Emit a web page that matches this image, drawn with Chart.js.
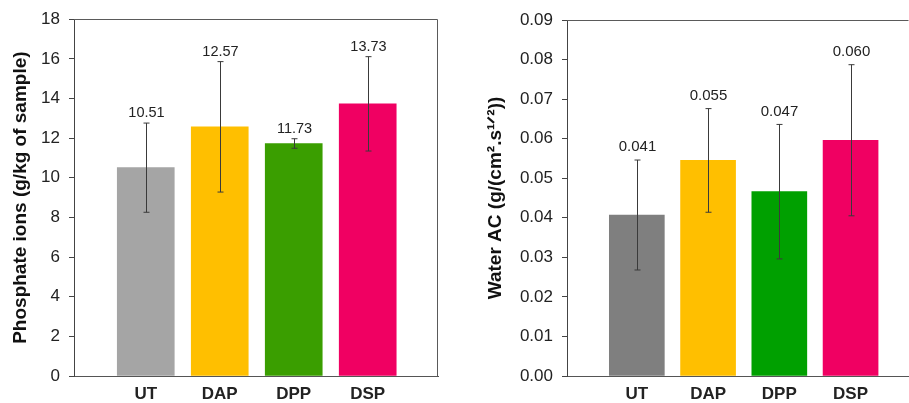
<!DOCTYPE html>
<html>
<head>
<meta charset="utf-8">
<script src="https://cdn.jsdelivr.net/npm/chart.js@4.4.1/dist/chart.umd.min.js"></script>
<style>
  html, body { margin: 0; padding: 0; background: #fff; }
  #wrap { position: relative; width: 909px; height: 403px; overflow: hidden; }
  #left { position: absolute; left: 0; top: 0; }
  #right { position: absolute; left: 455px; top: 0; }
</style>
</head>
<body>
<div id="wrap">
  <canvas id="left" width="450" height="403"></canvas>
  <canvas id="right" width="454" height="403"></canvas>
</div>
<script>
// данные
var categories = ['UT', 'DAP', 'DPP', 'DSP'];

var phosphateValues = [10.51, 12.57, 11.73, 13.73];
var phosphateErrors = [2.25, 3.29, 0.24, 2.38];
var phosphateLabels = ['10.51', '12.57', '11.73', '13.73'];
var phosphateColors = ['#a5a5a5', '#ffbf00', '#3a9e00', '#f00062'];

var waterValues = [0.0407, 0.0545, 0.0466, 0.0596];
var waterErrors = [0.0139, 0.0131, 0.0170, 0.0191];
var waterLabels = ['0.041', '0.055', '0.047', '0.060'];
var waterColors = ['#7f7f7f', '#ffbf00', '#00a000', '#f00062'];

var FONT = "'Liberation Sans', Arial, sans-serif";

// усы погрешностей + подписи значений над ними
var errorBarsPlugin = {
  id: 'errorBars',
  afterDatasetsDraw: function (chart, args, opts) {
    var ctx = chart.ctx;
    var xs = chart.scales.x, ys = chart.scales.y;
    ctx.save();
    opts.values.forEach(function (v, i) {
      var x = Math.round(xs.getPixelForValue(i + 1)) + 0.5;
      var yt = ys.getPixelForValue(v + opts.errors[i]);
      var yb = ys.getPixelForValue(v - opts.errors[i]);
      ctx.strokeStyle = '#3a3a3a';
      ctx.lineWidth = 1;
      ctx.beginPath();
      ctx.moveTo(x, yt); ctx.lineTo(x, yb);
      ctx.moveTo(x - 3, yt); ctx.lineTo(x + 3, yt);
      ctx.moveTo(x - 3, yb); ctx.lineTo(x + 3, yb);
      ctx.stroke();
      ctx.fillStyle = '#222';
      ctx.font = opts.fontSize + 'px ' + FONT;
      ctx.textAlign = 'center';
      ctx.textBaseline = 'middle';
      ctx.fillText(opts.labels[i], x, yt - opts.gap);
    });
    ctx.restore();
  }
};

// рамка: верх и правый край области графика
var framePlugin = {
  id: 'frame',
  afterDraw: function (chart, args, opts) {
    if (!opts.show) return;
    var a = chart.chartArea, ctx = chart.ctx;
    ctx.save();
    ctx.strokeStyle = opts.color;
    ctx.lineWidth = 1;
    ctx.beginPath();
    ctx.moveTo(a.left, Math.round(a.top) + 0.5);
    ctx.lineTo(Math.round(a.right) - 0.5, Math.round(a.top) + 0.5);
    if (opts.rightSide) ctx.lineTo(Math.round(a.right) - 0.5, a.bottom);
    ctx.stroke();
    ctx.restore();
  }
};

function makeChart(id, cfg) {
  var canvas = document.getElementById(id);
  return new Chart(canvas.getContext('2d'), {
    type: 'bar',
    data: {
      datasets: [{
        data: cfg.values.map(function (v, i) { return { x: i + 1, y: v }; }),
        backgroundColor: cfg.colors,
        borderWidth: 0,
        barThickness: cfg.barWidth
      }]
    },
    options: {
      responsive: false,
      animation: false,
      layout: { padding: { top: cfg.top, right: cfg.padRight, bottom: 0, left: 0 } },
      plugins: {
        legend: { display: false },
        tooltip: { enabled: false },
        errorBars: { values: cfg.values, errors: cfg.errors, labels: cfg.labels, gap: cfg.labelGap, fontSize: cfg.labelSize },
        frame: { show: true, color: '#5a5a5a', rightSide: cfg.rightSide }
      },
      scales: {
        x: {
          type: 'linear',
          min: cfg.xMin,
          max: cfg.xMax,
          offset: false,
          afterFit: function (s) { s.height = 27; },
          grid: { display: false },
          border: { display: true, color: '#555', width: 1 },
          ticks: {
            stepSize: 1,
            includeBounds: false,
            autoSkip: false,
            maxRotation: 0,
            padding: 0,
            color: '#222',
            font: { family: FONT, size: 17, weight: 'bold' },
            callback: function (v) { return categories[v - 1] || ''; }
          }
        },
        y: {
          min: 0,
          max: cfg.yMax,
          afterFit: function (s) { s.width = cfg.yWidth; },
          grid: { display: true, drawOnChartArea: false, drawTicks: true, tickLength: 5, color: '#444' },
          border: { display: true, color: '#444', width: 1 },
          ticks: {
            stepSize: cfg.yStep,
            padding: 9,
            color: '#222',
            font: { family: FONT, size: 17 },
            callback: cfg.tickFmt
          },
          title: {
            display: true,
            text: cfg.title,
            color: '#111',
            padding: { top: cfg.titlePad, bottom: 0 },
            font: { family: FONT, size: 19, weight: 'bold' }
          }
        }
      }
    },
    plugins: [errorBarsPlugin, framePlugin]
  });
}

try {
  makeChart('left', {
    values: phosphateValues, errors: phosphateErrors, labels: phosphateLabels, colors: phosphateColors,
    barWidth: 57, xMin: 0.03, xMax: 4.95, yMax: 18, yStep: 2,
    yWidth: 74, top: 16, padRight: 12, titlePad: 9, labelGap: 10, labelSize: 14.5, rightSide: true,
    tickFmt: function (v) { return String(v); },
    title: 'Phosphate ions (g/kg of sample)'
  });
  makeChart('right', {
    values: waterValues, errors: waterErrors, labels: waterLabels, colors: waterColors,
    barWidth: 55, xMin: 0.02, xMax: 4.82, yMax: 0.09, yStep: 0.01,
    yWidth: 112, top: 20, padRight: 0, titlePad: 29, labelGap: 13, labelSize: 15, rightSide: false,
    tickFmt: function (v) { return v.toFixed(2); },
    title: 'Water AC (g/(cm\u00b2.s\u00b9\u141f\u00b2))'
  });
} catch (e) {
  if (window.console) console.error('[charts] init error', e);
}
</script>
</body>
</html>
